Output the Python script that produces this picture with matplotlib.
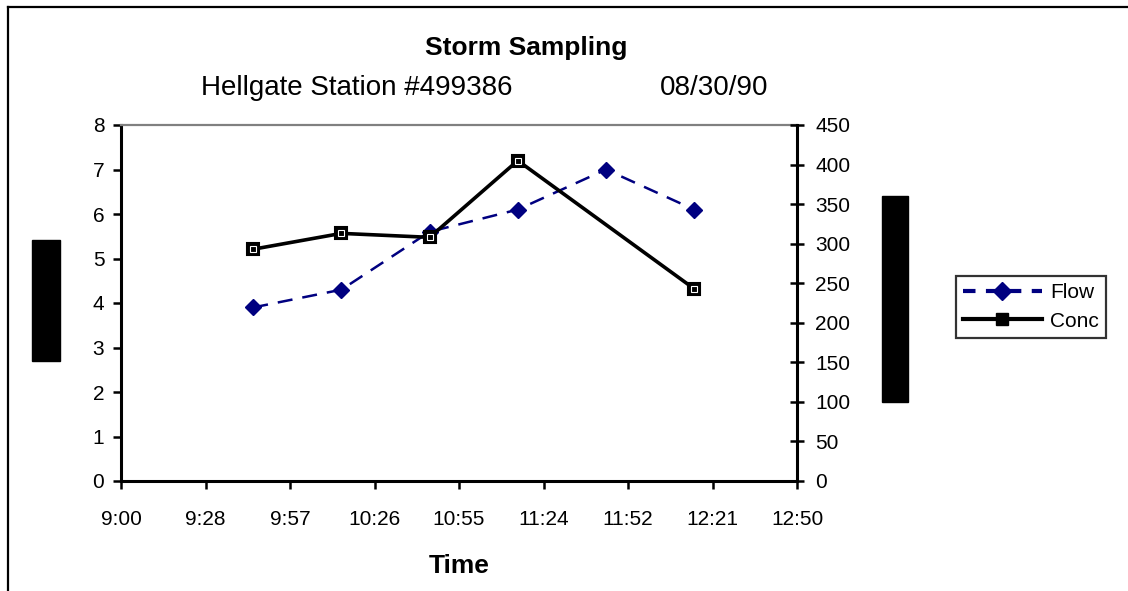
import matplotlib.pyplot as plt
from matplotlib.patches import Rectangle
from matplotlib.lines import Line2D

plt.rcParams['font.family'] = ['Liberation Sans', 'DejaVu Sans']

# sample times and readings
flow_times = ['9:45', '10:15', '10:45', '11:15', '11:45', '12:15']
flow = [3.9, 4.3, 5.6, 6.1, 7.0, 6.1]
conc_times = ['9:45', '10:15', '10:45', '11:15', '12:15']
conc = [293, 313, 308, 405, 243]

xtick_labels = ['9:00', '9:28', '9:57', '10:26', '10:55', '11:24', '11:52', '12:21', '12:50']
left_ticks = [0, 1, 2, 3, 4, 5, 6, 7, 8]
right_ticks = [0, 50, 100, 150, 200, 250, 300, 350, 400, 450]


def to_min(s):
    # minutes after 9:00
    h, m = s.split(':')
    return (int(h) - 9) * 60 + int(m)


W, H = 1128, 591
fig = plt.figure(figsize=(W / 100, H / 100), dpi=100)
ax = fig.add_axes([121 / W, 1 - 481 / H, 676 / W, 356 / H])
ax2 = ax.twinx()

navy = '#000080'
l1, = ax.plot([to_min(t) for t in flow_times], flow, color=navy, lw=1.8,
              dashes=(6, 4), marker='D', ms=8.5, mfc=navy, mec=navy)
l2, = ax2.plot([to_min(t) for t in conc_times], conc, color='black', lw=2.6,
               marker='s', ms=8, mfc='black', mec='black', mew=1.5)
# thin white corner inside the square markers
ax2.plot([to_min(t) for t in conc_times], conc, ls='none', marker='s', ms=4,
         mfc='none', mec='white', mew=0.8)

ax.set_xlim(0, 230)
ax.set_xticks([i * 230 / 8 for i in range(9)])
ax.set_xticklabels(xtick_labels)
ax.set_ylim(0, 8)
ax.set_yticks(left_ticks)
ax2.set_ylim(0, 450)
ax2.set_yticks(right_ticks)

for a in (ax, ax2):
    a.tick_params(labelsize=15, width=1.8, length=6, color='black')
    for s in a.spines.values():
        s.set_linewidth(2.2)
ax.tick_params(axis='y', pad=6)
ax.tick_params(axis='x', pad=15)
ax2.tick_params(axis='y', direction='inout', length=10, pad=8)
ax.spines['right'].set_visible(False)
ax.spines['top'].set_color('#808080')
ax.spines['top'].set_linewidth(1.6)
ax2.spines['top'].set_visible(False)
ax2.spines['left'].set_visible(False)
ax2.spines['bottom'].set_visible(False)

ax.set_xlabel('Time', fontsize=19, fontweight='bold', labelpad=18)

fig.text(526 / W, 1 - 48 / H, 'Storm Sampling', fontsize=19, fontweight='bold',
         ha='center', va='center')
fig.text(201 / W, 1 - 88 / H, 'Hellgate Station #499386', fontsize=20,
         ha='left', va='center')
fig.text(660 / W, 1 - 88 / H, '08/30/90', fontsize=20, ha='left', va='center')

# black boxes where the axis titles were
fig.patches.append(Rectangle((32 / W, 1 - 361 / H), 28 / W, 121 / H,
                             transform=fig.transFigure, color='black'))
fig.patches.append(Rectangle((882 / W, 1 - 402 / H), 26 / W, 206 / H,
                             transform=fig.transFigure, color='black'))

# outer frame (top and left edges visible)
fig.lines.append(Line2D([8 / W, 1], [1 - 7 / H, 1 - 7 / H], transform=fig.transFigure,
                        color='black', lw=1.6))
fig.lines.append(Line2D([8 / W, 8 / W], [0, 1 - 7 / H], transform=fig.transFigure,
                        color='black', lw=1.6))

# legend handles drawn heavier, like the original
h1 = Line2D([], [], color=navy, lw=3, dashes=(3, 2.5), marker='D', ms=9,
            mfc=navy, mec=navy)
h2 = Line2D([], [], color='black', lw=3, marker='s', ms=8, mfc='black', mec='black')
leg = fig.legend([h1, h2], ['Flow', 'Conc'], loc='center', fontsize=15,
                 bbox_to_anchor=(1031 / W, 1 - 307 / H), frameon=True,
                 fancybox=False, edgecolor='black', handlelength=3.8,
                 handletextpad=0.4, borderpad=0.35, labelspacing=0.45,
                 borderaxespad=0)
leg.get_frame().set_linewidth(1.6)

fig.savefig('out.png', dpi=100)
